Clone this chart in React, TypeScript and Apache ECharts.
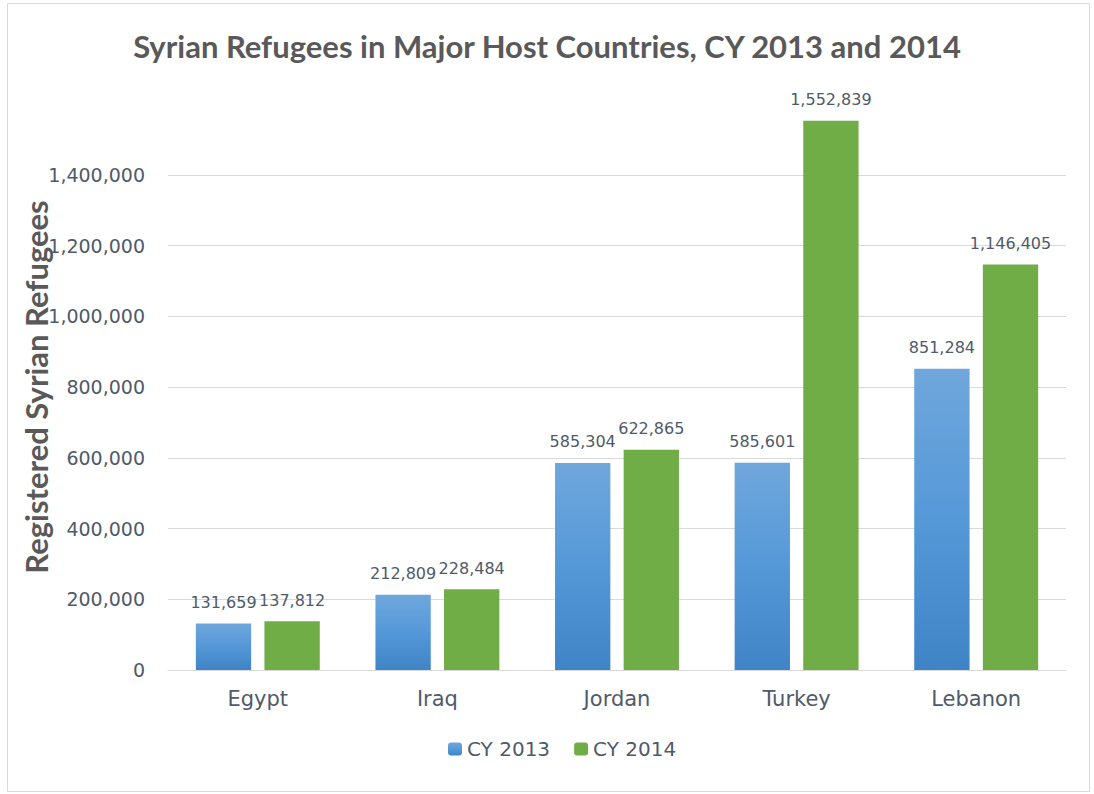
import React, { useEffect, useRef } from "react";
import * as echarts from "echarts";

const categories = ["Egypt", "Iraq", "Jordan", "Turkey", "Lebanon"];
const cy2013 = [131659, 212809, 585304, 585601, 851284];
const cy2014 = [137812, 228484, 622865, 1552839, 1146405];
const seriesNames = ["CY 2013", "CY 2014"];
const titleText = "Syrian Refugees in Major Host Countries, CY 2013 and 2014";
const yAxisTitle = "Registered Syrian Refugees";

const TITLE_FONT = "Lato";
const FONT = "DejaVu Sans";
const TEXT_COLOR = "#4f5a6a";
const fmt = (v: number) => v.toLocaleString("en-US");

export default function App() {
  const ref = useRef<HTMLDivElement>(null);
  useEffect(() => {
    if (!ref.current) return;
    const chart = echarts.init(ref.current, null, { renderer: "svg" });
    const gridColors = ["#d9d9d9", "#d9d9d9", "#d9d9d9", "#d9d9d9", "#d9d9d9", "#d9d9d9", "#d9d9d9", "#d9d9d9", "rgba(0,0,0,0)"];
    const labelStyle = {
      show: true,
      position: "top",
      distance: 13,
      fontFamily: FONT,
      fontSize: 16,
      color: TEXT_COLOR,
      formatter: (p: any) => fmt(p.value),
    };
    chart.setOption({
      animation: false,
      backgroundColor: "#ffffff",
      title: {
        text: titleText,
        left: "center",
        top: 25,
        textStyle: { fontFamily: TITLE_FONT, fontSize: 31, fontWeight: "bold", color: "#595959" },
      },
      graphic: [
        {
          type: "rect",
          shape: { x: 7.5, y: 3.5, width: 1082, height: 788 },
          style: { fill: "none", stroke: "#d9d9d9", lineWidth: 1 },
          silent: true,
        },
      ],
      legend: {
        data: seriesNames,
        bottom: 30,
        left: 443,
        itemWidth: 14,
        itemHeight: 13,
        itemGap: 24,
        textStyle: { fontFamily: FONT, fontSize: 20, color: TEXT_COLOR },
      },
      grid: { left: 168, right: 28, top: 104, bottom: 124 },
      xAxis: {
        type: "category",
        data: categories,
        axisLine: { show: true, lineStyle: { color: "#d9d9d9" } },
        axisTick: { show: false },
        axisLabel: { fontFamily: FONT, fontSize: 21, color: TEXT_COLOR, margin: 18 },
      },
      yAxis: {
        type: "value",
        min: 0,
        max: 1600000,
        interval: 200000,
        name: yAxisTitle,
        nameLocation: "middle",
        nameGap: 117,
        nameMoveOverlap: false,
        nameTextStyle: { fontFamily: TITLE_FONT, fontSize: 31, fontWeight: "bold", color: "#595959" },
        axisLine: { show: false },
        axisTick: { show: false },
        splitLine: { lineStyle: { color: gridColors, width: 1 } },
        axisLabel: {
          fontFamily: FONT,
          fontSize: 19,
          color: TEXT_COLOR,
          margin: 23,
          formatter: (v: number) => (v >= 1600000 ? "" : fmt(v)),
        },
      },
      series: [
        {
          name: seriesNames[0],
          type: "bar",
          data: cy2013,
          barGap: "24%",
          barCategoryGap: "31%",
          itemStyle: {
            color: new echarts.graphic.LinearGradient(0, 0, 0, 1, [
              { offset: 0, color: "#6fa7dc" },
              { offset: 0.5, color: "#5598d8" },
              { offset: 1, color: "#3f84c6" },
            ]),
          },
          label: labelStyle,
        },
        {
          name: seriesNames[1],
          type: "bar",
          data: cy2014,
          itemStyle: { color: "#70ad47" },
          label: labelStyle,
        },
      ],
    });
    return () => chart.dispose();
  }, []);
  return (
    <div
      ref={ref}
      style={{ position: "fixed", left: 0, top: 0, width: 1094, height: 794 }}
    />
  );
}
